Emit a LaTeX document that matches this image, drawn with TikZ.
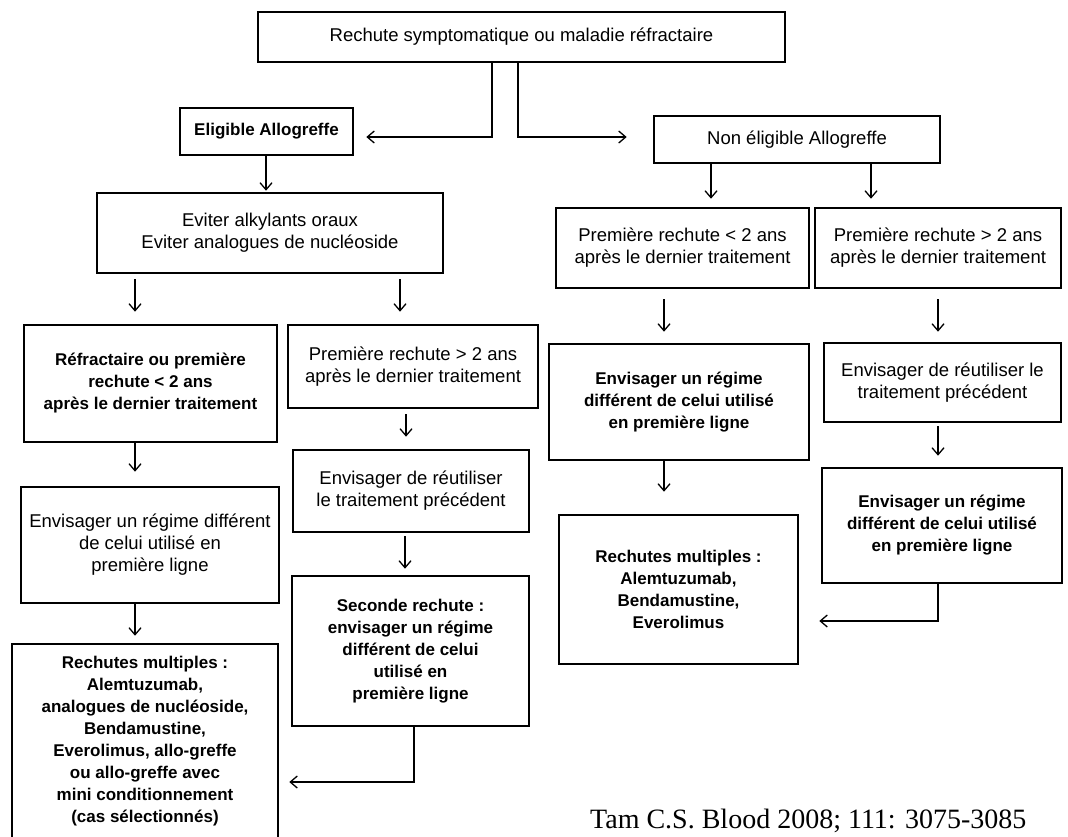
\documentclass[tikz,border=0pt]{standalone}
\usepackage{fontspec}
\setmainfont{Liberation Sans}
\newfontfamily\citefont{Liberation Serif}
\usetikzlibrary{arrows.meta}
\begin{document}
\begin{tikzpicture}[x=1pt,y=-1pt,
  box/.style={draw, line width=2.6pt, inner sep=0pt, align=center,
    font=\fontsize{18.5}{22}\selectfont},
  bbox/.style={box, font=\fontsize{17}{22}\selectfont\bfseries},
  arr/.style={line width=1.3pt, -{Straight Barb[length=7pt,width=12pt]}}]
\useasboundingbox (0,0) rectangle (1068,836);
\clip (0,0) rectangle (1068,836);
\fill[white] (0,0) rectangle (1068,836);

% boxes
\node[box, minimum width=527pt, minimum height=50pt] (top) at (521.5,37)
  {Rechute symptomatique ou maladie réfractaire};
\node[bbox, minimum width=173pt, minimum height=47pt] (elig) at (266.5,131.5)
  {Eligible Allogreffe};
\node[box, minimum width=286pt, minimum height=47pt] (nonelig) at (797,139.5)
  {Non éligible Allogreffe};
\node[box, minimum width=346pt, minimum height=80pt] (eviter) at (270,233)
  {Eviter alkylants oraux\\Eviter analogues de nucléoside};
\node[bbox, minimum width=253pt, minimum height=117pt] (refr) at (150.5,383.5)
  {Réfractaire ou première\\rechute < 2 ans\\après le dernier traitement};
\node[box, minimum width=250pt, minimum height=83pt] (prem2L) at (413,366.5)
  {Première rechute > 2 ans\\après le dernier traitement};
\node[box, minimum width=236pt, minimum height=82pt] (reutL) at (411,491)
  {Envisager de réutiliser\\le traitement précédent};
\node[box, minimum width=258pt, minimum height=116pt] (envL) at (150,545)
  {Envisager un régime différent\\de celui utilisé en\\première ligne};
\node[bbox, minimum width=237pt, minimum height=150pt] (secL) at (410.5,651)
  {Seconde rechute :\\envisager un régime\\différent de celui\\utilisé en\\première ligne};
\node[bbox, minimum width=266pt, minimum height=195pt] (multL) at (145,741.5)
  {Rechutes multiples :\\Alemtuzumab,\\analogues de nucléoside,\\Bendamustine,\\Everolimus, allo-greffe\\ou allo-greffe avec\\mini conditionnement\\(cas sélectionnés)};
\node[box, minimum width=253pt, minimum height=80pt] (premLt2) at (682.5,248)
  {Première rechute < 2 ans\\après le dernier traitement};
\node[box, minimum width=246pt, minimum height=80pt] (premGt2) at (938,248)
  {Première rechute > 2 ans\\après le dernier traitement};
\node[bbox, minimum width=260pt, minimum height=116pt] (envM) at (679,402)
  {Envisager un régime\\différent de celui utilisé\\en première ligne};
\node[box, minimum width=237pt, minimum height=79pt] (reutR) at (942.5,382.5)
  {Envisager de réutiliser le\\traitement précédent};
\node[bbox, minimum width=239pt, minimum height=149pt] (multM) at (678.5,589.5)
  {Rechutes multiples :\\Alemtuzumab,\\Bendamustine,\\Everolimus};
\node[bbox, minimum width=240pt, minimum height=115pt] (envR) at (942,525.5)
  {Envisager un régime\\différent de celui utilisé\\en première ligne};

% connectors
\draw[arr, shorten >=12pt] (top.south -| 492,0) |- (elig.east |- 0,137);
\draw[arr, shorten >=26pt] (top.south -| 518,0) |- (nonelig.west |- 0,137);
\draw[arr, shorten >=1pt] (elig.south -| 266,0) -- (eviter.north -| 266,0);
\draw[arr, shorten >=8pt] (nonelig.south -| 711,0) -- (premLt2.north -| 711,0);
\draw[arr, shorten >=8pt] (nonelig.south -| 871,0) -- (premGt2.north -| 871,0);
\draw[arr, shorten <=5pt, shorten >=12pt] (eviter.south -| 135,0) -- (refr.north -| 135,0);
\draw[arr, shorten <=5pt, shorten >=12pt] (eviter.south -| 400,0) -- (prem2L.north -| 400,0);
\draw[arr, shorten >=14pt] (refr.south -| 135,0) -- (envL.north -| 135,0);
\draw[arr, shorten <=5pt, shorten >=12pt] (prem2L.south -| 406,0) -- (reutL.north -| 406,0);
\draw[arr, shorten <=3pt, shorten >=6pt] (reutL.south -| 405,0) -- (secL.north -| 405,0);
\draw[arr, shorten >=7pt] (envL.south -| 135,0) -- (multL.north -| 135,0);
\draw[arr, shorten <=10pt, shorten >=11pt] (premLt2.south -| 664,0) -- (envM.north -| 664,0);
\draw[arr, shorten <=10pt, shorten >=10pt] (premGt2.south -| 938,0) -- (reutR.north -| 938,0);
\draw[arr, shorten <=3pt, shorten >=11pt] (reutR.south -| 938,0) -- (envR.north -| 938,0);
\draw[arr, shorten >=22pt] (envM.south -| 664,0) -- (multM.north -| 664,0);
\draw[arr, shorten >=10pt] (secL.south -| 414,0) |- (multL.east |- 0,782);
\draw[arr, shorten >=20pt] (envR.south -| 938,0) |- (multM.east |- 0,621);

% citation
\node[anchor=base west, inner sep=0pt, font=\citefont\fontsize{28}{30}\selectfont] (cite) at (590,828)
  {Tam C.S. Blood 2008; 111: 3075-3085};
\end{tikzpicture}
\end{document}
